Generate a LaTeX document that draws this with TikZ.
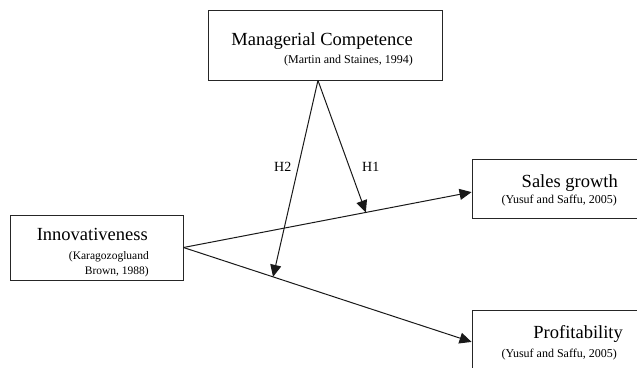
\documentclass[tikz,border=0pt]{standalone}
\usepackage{fontspec}
\setmainfont{Liberation Serif}
\usetikzlibrary{arrows.meta,calc}
\begin{document}
\begin{tikzpicture}[x=1pt,y=-1pt,
  box/.style={draw=black!85,line width=0.9pt,rectangle,inner sep=0pt},
  big/.style={anchor=base east,inner sep=0pt,font=\fontsize{18.5}{20}\selectfont},
  cite/.style={anchor=base east,inner sep=0pt,font=\fontsize{12}{14}\selectfont},
  hlab/.style={anchor=base west,inner sep=0pt,font=\fontsize{14}{16}\selectfont},
  link/.style={line width=1pt,black!90},
  arr/.style={link,-{Triangle[length=12pt,width=11pt]}}]
\useasboundingbox (0,0) rectangle (637,367);
\clip (0,0) rectangle (637,367);
% boxes
\node[box,minimum width=234pt,minimum height=70pt] (mc) at (325,45) {};
\node[box,minimum width=173pt,minimum height=65pt] (inn) at (96.5,247.5) {};
\node[box,minimum width=200pt,minimum height=59pt] (sal) at (572,188.5) {};
\node[box,minimum width=200pt,minimum height=80pt] (pro) at (572,350) {};
% texts
\node[big] (mct) at (413,45) {Managerial Competence};
\node[cite] (mcc) at (413,63) {(Martin and Staines, 1994)};
\node[big] (innt) at (148,240) {Innovativeness};
\node[cite,font=\fontsize{11.5}{13}\selectfont] (innc1) at (149,259) {(Karagozogluand};
\node[cite,font=\fontsize{11.5}{13}\selectfont] (innc2) at (149,274) {Brown, 1988)};
\node[big] (salt) at (618,187) {Sales growth};
\node[cite] (salc) at (617,203) {(Yusuf and Saffu, 2005)};
\node[big] (prot) at (623,338) {Profitability};
\node[cite] (proc) at (617,357) {(Yusuf and Saffu, 2005)};
% connector anchors
\coordinate (apex) at ($(mc.south west)!0.47!(mc.south east)$);
\coordinate (salin) at ($(sal.north west)!0.56!(sal.south west)$);
\coordinate (proin) at ($(pro.north west)!0.4!(pro.south west)$);
\coordinate (h1end) at ($(inn.east)!0.633!(salin)$);
\coordinate (h2end) at ($(inn.east)!0.311!(proin)$);
% connectors
\draw[arr] (inn.east) -- (salin);
\draw[arr] (inn.east) -- (proin);
\draw[arr] (apex) -- (h1end);
\draw[arr] (apex) -- (h2end);
% labels
\node[hlab] (h2) at (274,171) {H2};
\node[hlab] (h1) at (362,171) {H1};
\end{tikzpicture}
\end{document}
